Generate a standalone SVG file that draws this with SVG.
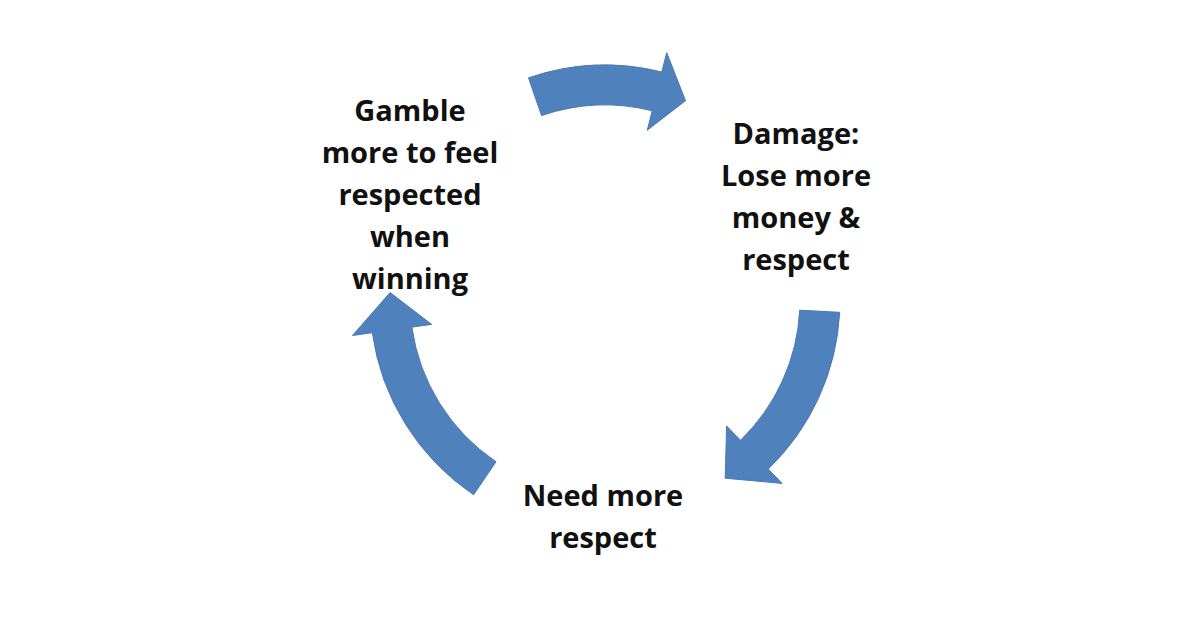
<svg xmlns="http://www.w3.org/2000/svg" width="1200" height="630" viewBox="0 0 1200 630">
<style>
.a{fill:#4f81bd;stroke:#4a7ab4;stroke-width:1}
.t{font-family:"Open Sans","Liberation Sans",sans-serif;font-weight:bold;font-size:29px;fill:#111;text-anchor:middle}
</style>
<rect width="1200" height="630" fill="#fff"/>
<g id="connectors">
<path class="a" d="M528.5,77.8 A235,235 0 0 1 661.8,72.0 L666.7,52.6 L685.5,100.7 L647.3,130.2 L652.2,110.8 A195,195 0 0 0 541.5,115.6 Z"/>
<path class="a" d="M839.7,312.3 A235,235 0 0 1 768.3,469.0 L782.1,483.4 L725.2,478.2 L726.6,425.9 L740.5,440.3 A195,195 0 0 0 799.7,310.2 Z"/>
<path class="a" d="M473.6,494.8 A235,235 0 0 1 372.3,332.7 L352.5,335.5 L390.1,292.5 L431.7,324.4 L411.9,327.1 A195,195 0 0 0 496.0,461.7 Z"/>
</g>
<g id="n1"><text class="t" x="410"><tspan x="410" y="121">Gamble</tspan><tspan x="410" y="163">more to feel</tspan><tspan x="410" y="205">respected</tspan><tspan x="410" y="247">when</tspan><tspan x="410" y="289">winning</tspan></text></g>
<g id="n2"><text class="t"><tspan x="796" y="144">Damage:</tspan><tspan x="796" y="186">Lose more</tspan><tspan x="796" y="228">money &amp;</tspan><tspan x="796" y="270">respect</tspan></text></g>
<g id="n3"><text class="t"><tspan x="603" y="506">Need more</tspan><tspan x="603" y="548">respect</tspan></text></g>
</svg>
